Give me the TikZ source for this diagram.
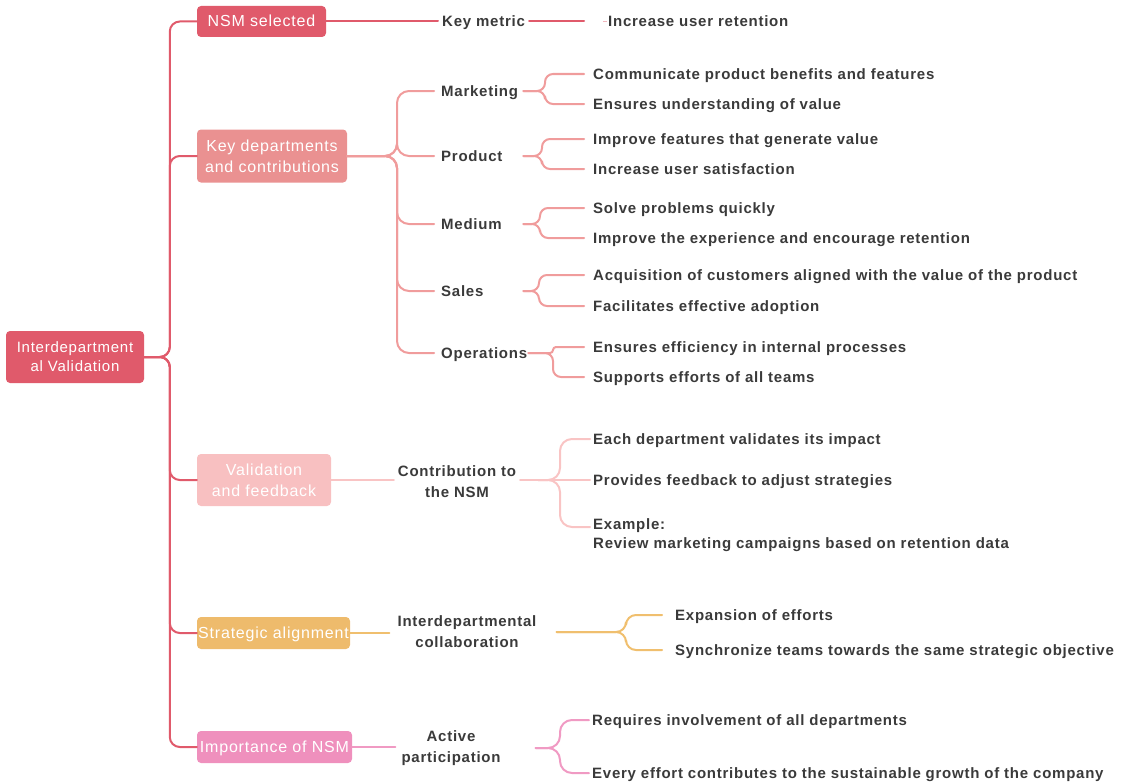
\documentclass[tikz,border=0pt]{standalone}
\usepackage{fontspec}
\setmainfont{Liberation Sans}[LetterSpace=5]
\definecolor{rootred}{HTML}{E05A6B}
\definecolor{salmon}{HTML}{EA9191}
\definecolor{salmonln}{HTML}{F09C9C}
\definecolor{lpink}{HTML}{F8C0C1}
\definecolor{lpinkln}{HTML}{F9C4C4}
\definecolor{amber}{HTML}{EEBB6C}
\definecolor{amberln}{HTML}{F0BF6E}
\definecolor{rose}{HTML}{EF90BD}
\definecolor{roseln}{HTML}{F09AC3}
\definecolor{txt}{HTML}{3A3A3A}
\begin{document}
\begin{tikzpicture}[x=1pt,y=-1pt,
  box/.style={rectangle, rounded corners=4pt, inner sep=0pt, text=white, align=center,
    font=\fontsize{16}{21}\selectfont},
  oneline/.style={text height=14.5pt, text depth=3.5pt},
  lbl/.style={text=txt, inner sep=0pt, align=center, font=\fontsize{15}{21}\selectfont\bfseries},
  dept/.style={lbl, oneline, anchor=west, inner xsep=7pt, text width=75pt, align=left},
  leafbase/.style={text=txt, anchor=west, inner ysep=0pt, inner xsep=9pt, align=left,
    font=\fontsize{15}{19}\selectfont\bfseries},
  leaf/.style={leafbase, oneline},
  link/.style={line width=2pt, line cap=round}]
\useasboundingbox (0,0) rectangle (1132,784);

% root and first-level topics
\node[box, fill=rootred, minimum width=138, minimum height=52, font=\fontsize{15}{19}\selectfont] (root) at (75,357) {Interdepartment\\al Validation};
\node[box, oneline, fill=rootred, minimum width=129, minimum height=31] (nsm) at (261.5,21.5) {NSM selected};
\node[box, fill=salmon, minimum width=150, minimum height=53] (kd) at (272,156) {Key departments\\and contributions};
\node[box, fill=lpink, minimum width=134, minimum height=52] (vf) at (264,480) {Validation\\and feedback};
\node[box, oneline, fill=amber, minimum width=153, minimum height=32] (sa) at (273.5,633) {Strategic alignment};
\node[box, oneline, fill=rose, minimum width=155, minimum height=32] (im) at (274.5,747) {Importance of NSM};

% trunk
\foreach \t in {nsm,kd,vf,sa,im}
  \draw[link, rootred, rounded corners=10pt] (root.east) -| ([xshift=-27pt]\t.west) -- (\t.west);

% NSM selected
\node[lbl, oneline, anchor=west, inner xsep=4pt] (km) at (438,21.5) {Key metric};
\coordinate (kmend) at (584,21.5);
\node[leaf, inner xsep=5pt] (ret) at (603,21.5) {Increase user retention};
\draw[link, rootred] (nsm.east) -- (km.west);
\draw[link, rootred] (km.east) -- (kmend);
\draw[line width=1.2pt, rootred!45] (ret.west) -- ++(4,0);

% key departments
\node[dept] (mk) at (434,91) {Marketing};
\node[dept] (pr) at (434,156) {Product};
\node[dept] (md) at (434,224) {Medium};
\node[dept] (sl) at (434,291) {Sales};
\node[dept, text width=80pt] (op) at (434,353) {Operations};
\foreach \d in {mk,pr,md,sl,op}
  \draw[link, salmonln, rounded corners=12pt] (kd.east) -| ([xshift=-37pt]\d.west) -- (\d.west);

\node[leaf] (mk1) at (584,74) {Communicate product benefits and features};
\node[leaf] (mk2) at (584,104) {Ensures understanding of value};
\node[leaf] (pr1) at (584,139) {Improve features that generate value};
\node[leaf] (pr2) at (584,169) {Increase user satisfaction};
\node[leaf] (md1) at (584,208) {Solve problems quickly};
\node[leaf] (md2) at (584,238) {Improve the experience and encourage retention};
\node[leaf] (sl1) at (584,275) {Acquisition of customers aligned with the value of the product};
\node[leaf] (sl2) at (584,306) {Facilitates effective adoption};
\node[leaf] (op1) at (584,347) {Ensures efficiency in internal processes};
\node[leaf] (op2) at (584,377) {Supports efforts of all teams};
\foreach \p/\s in {mk/39,pr/42,md/44,sl/45}
  \foreach \k in {1,2}
    \draw[link, salmonln, rounded corners=8pt] (\p.east) -| ([xshift=-\s pt]\p\k.west) -- (\p\k.west);
\draw[link, salmonln, rounded corners=3pt] (op.east) -| ([xshift=-31pt]op1.west) -- (op1.west);
\draw[link, salmonln, rounded corners=8pt] (op.east) -| ([xshift=-31pt]op2.west) -- (op2.west);

% validation and feedback
\node[lbl, inner xsep=4pt] (ct) at (457,482) {Contribution to\\the NSM};
\draw[link, lpinkln] (vf.east) -- (vf.east -| ct.west);
\coordinate (ctout) at ([xshift=18pt]ct.east |- vf.east);
\node[leaf, inner xsep=3pt] (v1) at (590,439) {Each department validates its impact};
\node[leaf, inner xsep=3pt] (v2) at (590,480) {Provides feedback to adjust strategies};
\node[leafbase, inner xsep=3pt, anchor=north west] (v3) at (590,518) {Example:\\Review marketing campaigns based on retention data};
\coordinate (v3in) at (590,527);
\draw[link, lpinkln] (vf.east -| ct.east) -- (ctout);
\draw[link, lpinkln, rounded corners=12pt] (ctout) -| ([xshift=-30pt]v1.west) -- (v1.west);
\draw[link, lpinkln] (ctout) -- (v2.west);
\draw[link, lpinkln, rounded corners=12pt] (ctout) -| ([xshift=-30pt]v3in) -- (v3in);

% strategic alignment
\node[lbl, inner xsep=8pt] (co) at (467,632) {Interdepartmental\\collaboration};
\draw[link, amberln] (sa.east) -- (sa.east -| co.west);
\node[leaf, inner xsep=13pt] (s1) at (662,615) {Expansion of efforts};
\node[leaf, inner xsep=13pt] (s2) at (662,650) {Synchronize teams towards the same strategic objective};
\foreach \v in {s1,s2}
  \draw[link, amberln, rounded corners=10pt] ([xshift=12pt]co.east) -| ([xshift=-36pt]\v.west) -- (\v.west);

% importance of NSM
\node[lbl, inner xsep=6pt] (ap) at (451,748) {Active\\participation};
\draw[link, roseln] (im.east) -- (im.east -| ap.west);
\node[leaf, inner xsep=3pt] (i1) at (589,720) {Requires involvement of all departments};
\node[leaf, inner xsep=3pt] (i2) at (589,773) {Every effort contributes to the sustainable growth of the company};
\foreach \v in {i1,i2}
  \draw[link, roseln, rounded corners=12pt] ([xshift=29pt]ap.east) -| ([xshift=-29pt]\v.west) -- (\v.west);
\end{tikzpicture}
\end{document}
